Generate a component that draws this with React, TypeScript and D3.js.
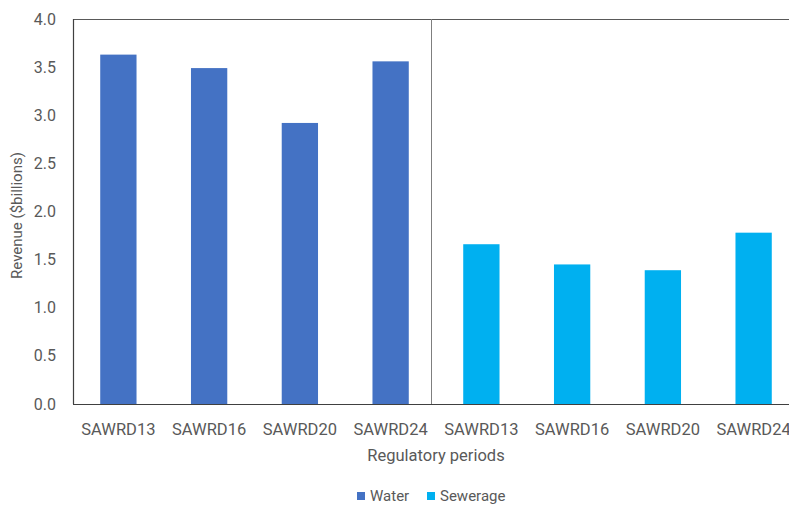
import React, { useRef, useEffect } from "react";
import * as d3 from "d3";

const periods = ["SAWRD13", "SAWRD16", "SAWRD20", "SAWRD24"];
const waterValues = [3.63, 3.49, 2.92, 3.56];
const sewerageValues = [1.66, 1.45, 1.39, 1.78];
const yTicks = [0, 0.5, 1, 1.5, 2, 2.5, 3, 3.5, 4];
const seriesNames = ["Water", "Sewerage"];
const seriesColors = ["#4472C4", "#00B0F0"];

const App = () => {
    const svgRef = useRef<SVGSVGElement>(null);

    useEffect(() => {
        const svg = d3.select(svgRef.current);
        svg.selectAll("*").remove();

        const width = 789;
        const height = 505;
        const left = 73;
        const top = 19;
        const bottom = 404;
        const right = 799;
        const font = "Roboto, 'Liberation Sans', sans-serif";
        const textColor = "#595959";

        // один ряд категорий на две группы: вода, потом канализация
        const rows = [
            ...periods.map((p, i) => ({ key: "w" + i, label: p, value: waterValues[i], s: 0 })),
            ...periods.map((p, i) => ({ key: "s" + i, label: p, value: sewerageValues[i], s: 1 })),
        ];

        const x = d3.scaleBand().domain(rows.map(d => d.key)).range([left, right]).paddingInner(0.6).paddingOuter(0.3);
        const y = d3.scaleLinear().domain([0, 4]).range([bottom, top]);

        svg.attr("width", width).attr("height", height);

        // Столбцы
        svg.append("g")
            .selectAll("rect")
            .data(rows)
            .enter()
            .append("rect")
            .attr("x", d => x(d.key)!)
            .attr("y", d => y(d.value))
            .attr("width", x.bandwidth())
            .attr("height", d => y(0) - y(d.value))
            .attr("fill", d => seriesColors[d.s]);

        // Рамка области графика
        svg.append("line").attr("x1", left).attr("x2", width).attr("y1", top + 0.5).attr("y2", top + 0.5)
            .attr("stroke", "#595959").attr("stroke-width", 1);
        svg.append("line").attr("x1", left + 0.5).attr("x2", left + 0.5).attr("y1", top).attr("y2", bottom)
            .attr("stroke", "#404040").attr("stroke-width", 1.2);
        svg.append("line").attr("x1", left).attr("x2", width).attr("y1", bottom + 0.5).attr("y2", bottom + 0.5)
            .attr("stroke", "#404040").attr("stroke-width", 1.2);

        // Разделитель между группами
        const divX = Math.round(x("s0")! - x.step() * 0.6 * 0.5) - 4.5;
        svg.append("line").attr("x1", divX).attr("x2", divX).attr("y1", top).attr("y2", bottom)
            .attr("stroke", "#7f7f7f").attr("stroke-width", 1);

        // Ось Y
        svg.append("g")
            .selectAll("text")
            .data(yTicks)
            .enter()
            .append("text")
            .attr("x", 56)
            .attr("y", d => y(d))
            .attr("dy", "0.35em")
            .attr("text-anchor", "end")
            .style("font-family", font)
            .style("font-size", "16px")
            .style("fill", textColor)
            .text(d => d3.format(".1f")(d));

        // Подписи по оси X
        svg.append("g")
            .selectAll("text")
            .data(rows)
            .enter()
            .append("text")
            .attr("x", d => x(d.key)! + x.bandwidth() / 2)
            .attr("y", 435)
            .attr("text-anchor", "middle")
            .style("font-family", font)
            .style("font-size", "16.5px")
            .style("fill", textColor)
            .text(d => d.label);

        svg.append("text")
            .attr("x", (left + right) / 2)
            .attr("y", 461)
            .attr("text-anchor", "middle")
            .style("font-family", font)
            .style("font-size", "16.5px")
            .style("fill", textColor)
            .text("Regulatory periods");

        svg.append("text")
            .attr("transform", `translate(22, ${(top + bottom) / 2 + 4}) rotate(-90)`)
            .attr("text-anchor", "middle")
            .style("font-family", font)
            .style("font-size", "15px")
            .style("fill", textColor)
            .text("Revenue ($billions)");

        // Легенда
        const legendX = [357, 427];
        const legend = svg.append("g")
            .selectAll("g")
            .data(seriesNames)
            .enter()
            .append("g")
            .attr("transform", (d, i) => `translate(${legendX[i]}, 492)`);
        legend.append("rect").attr("width", 8).attr("height", 8).attr("fill", (d, i) => seriesColors[i]);
        legend.append("text")
            .attr("x", 13)
            .attr("y", 4)
            .attr("dy", "0.35em")
            .style("font-family", font)
            .style("font-size", "15px")
            .style("fill", textColor)
            .text(d => d);
    }, []);

    return (
        <svg ref={svgRef} style={{ position: "absolute", left: 0, top: 0, display: "block" }}></svg>
    );
};

export default App;
